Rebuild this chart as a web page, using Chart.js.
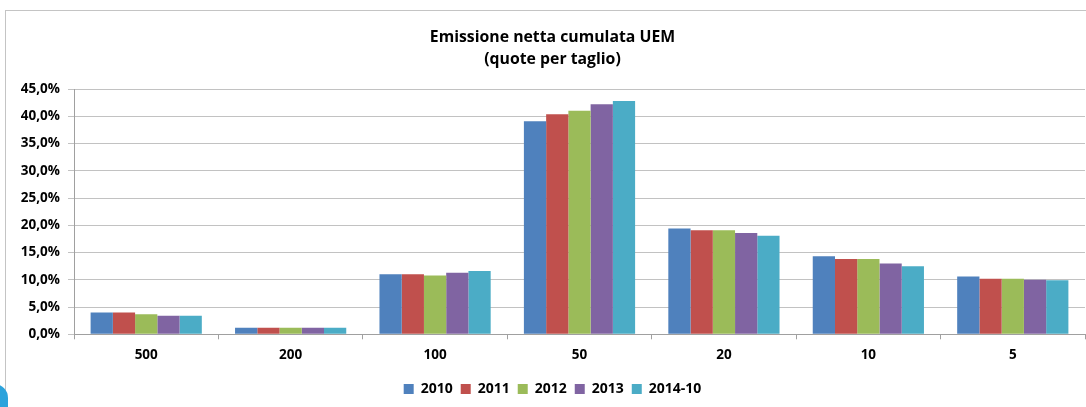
<!DOCTYPE html>
<html>
<head>
<meta charset="utf-8">
<script src="https://cdn.jsdelivr.net/npm/chart.js@4.4.1/dist/chart.umd.min.js"></script>
<style>
  html, body { margin:0; padding:0; background:#fff; }
  body { width:1086px; height:407px; position:relative; overflow:hidden; }
  #frame { position:absolute; left:5px; top:10px; width:1100px; height:420px; border:1px solid #c4c4c4; box-sizing:border-box; }
  #blob { position:absolute; left:-14px; top:384px; width:22px; height:40px; background:#2ba3dc; border-radius:0 14px 0 0; }
  #wrap { position:absolute; left:20px; top:0; width:1086px; height:407px; }
</style>
</head>
<body>
<div id="frame"></div>
<div id="blob"></div>
<div id="wrap"><canvas id="c" width="1086" height="407"></canvas></div>
<script>
const categories = ['500', '200', '100', '50', '20', '10', '5'];
const seriesNames = ['2010', '2011', '2012', '2013', '2014-10'];
const v2010 = [4.0, 1.2, 11.0, 39.1, 19.4, 14.3, 10.6];
const v2011 = [4.0, 1.2, 11.0, 40.4, 19.1, 13.8, 10.2];
const v2012 = [3.7, 1.2, 10.8, 41.0, 19.1, 13.8, 10.2];
const v2013 = [3.4, 1.2, 11.3, 42.2, 18.6, 13.0, 10.0];
const v2014 = [3.4, 1.2, 11.6, 42.8, 18.1, 12.5, 9.9];
const yTicks = [0, 5, 10, 15, 20, 25, 30, 35, 40, 45];
const titleLines = ['Emissione netta cumulata UEM', '(quote per taglio)'];

const colors = ['#4F81BD', '#C0504D', '#9BBB59', '#8064A2', '#4BACC6'];
const allValues = [v2010, v2011, v2012, v2013, v2014];

const FONT = "'Open Sans', Lato, sans-serif";
Chart.defaults.font.family = FONT;
Chart.defaults.color = '#000';

new Chart(document.getElementById('c'), {
  type: 'bar',
  data: {
    labels: categories,
    datasets: seriesNames.map((n, i) => ({
      label: n,
      data: allValues[i],
      backgroundColor: colors[i],
      borderColor: colors[i],
      borderWidth: 0,
      barPercentage: 1.0,
      categoryPercentage: 0.77
    }))
  },
  options: {
    responsive: false,
    animation: false,
    devicePixelRatio: 1,
    layout: { padding: { left: 0, right: 21, top: 0, bottom: 1 } },
    plugins: {
      title: {
        display: true,
        text: titleLines,
        font: { size: 15.8, weight: 'bold', family: FONT, lineHeight: 1.42 },
        color: '#000',
        padding: { top: 26, bottom: 18.2 }
      },
      legend: {
        position: 'bottom',
        labels: {
          boxWidth: 10,
          boxHeight: 10,
          padding: 8,
          font: { size: 14, weight: 'bold', family: FONT },
          color: '#000'
        }
      },
      tooltip: { enabled: false }
    },
    scales: {
      x: {
        offset: true,
        afterFit: (s) => { s.height = 39.7; },
        grid: { offset: true, drawOnChartArea: false, drawTicks: true, tickLength: 5, color: '#a0a0a0' },
        border: { display: true, color: '#a0a0a0', width: 1 },
        ticks: { font: { size: 13.5, weight: 'bold', family: FONT }, color: '#000', padding: 8 }
      },
      y: {
        min: 0,
        max: 45,
        afterBuildTicks: (s) => { s.ticks = yTicks.map(v => ({ value: v })); },
        afterFit: (s) => { s.width = 54; },
        grid: { color: '#c2c2c2', lineWidth: 1, drawTicks: true, tickLength: 6 },
        border: { display: true, color: '#a0a0a0', width: 1 },
        ticks: {
          font: { size: 13.5, weight: 'bold', family: FONT },
          color: '#000',
          padding: 8,
          callback: (v) => v.toFixed(1).replace('.', ',') + '%'
        }
      }
    }
  }
});
</script>
</body>
</html>
